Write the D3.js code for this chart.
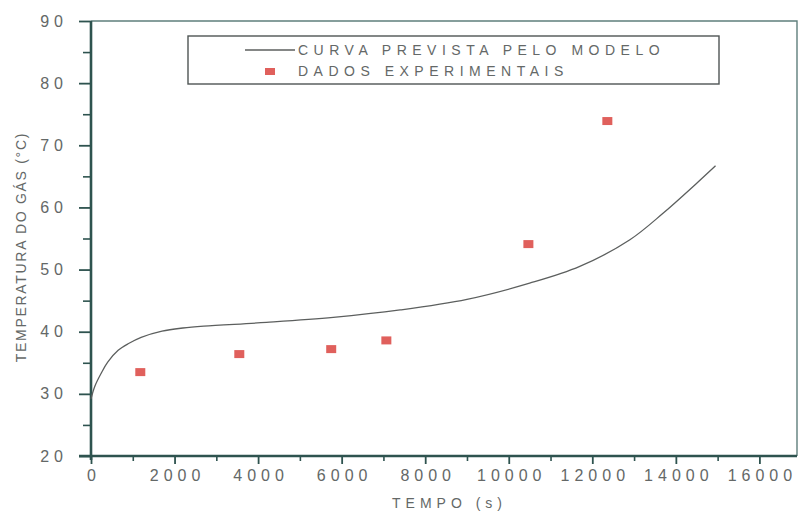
<!DOCTYPE html>
<html>
<head>
<meta charset="utf-8">
<script src="https://cdn.jsdelivr.net/npm/d3@7"></script>
<style>
  html, body { margin: 0; padding: 0; background: #ffffff; }
  svg { display: block; font-family: "Liberation Sans", Arial, sans-serif; }
</style>
</head>
<body>
<svg id="chart" width="798" height="515"></svg>
<script>
// Model curve: predicted gas temperature over time
const modelTime = [0, 90, 250, 400, 650, 900, 1200, 1700, 2200, 2700, 4200, 5800, 7400, 9000, 10500, 11700, 12900, 13700, 14500, 14950];
const modelTemp = [29.2, 31.2, 33.4, 35.1, 37.0, 38.1, 39.1, 40.1, 40.6, 40.9, 41.5, 42.3, 43.5, 45.2, 47.8, 50.5, 54.8, 59.1, 63.9, 66.7];

// Experimental measurements
const expTime = [1180, 3550, 5750, 7070, 10470, 12360];
const expTemp = [33.5, 36.4, 37.2, 38.6, 54.1, 73.9];

// Axis ticks
const xTicks = [0, 2000, 4000, 6000, 8000, 10000, 12000, 14000, 16000];
const xMinor = [1000, 3000, 5000, 7000, 9000, 11000, 13000, 15000];
const yTicks = [20, 30, 40, 50, 60, 70, 80, 90];
const yMinor = [25, 35, 45, 55, 65, 75, 85];

const legendLabels = ["CURVA PREVISTA PELO MODELO", "DADOS EXPERIMENTAIS"];
const xTitle = "TEMPO (s)";
const yTitle = "TEMPERATURA DO GÁS (°C)";

const axisColor = "#2e534f";
const textColor = "#646867";
const markColor = "#e0605c";

const svg = d3.select("#chart");

const plotLeft = 91, plotRight = 797, plotTop = 21, plotBottom = 456;
const x = d3.scaleLinear().domain([0, 16900]).range([plotLeft, plotRight]);
const y = d3.scaleLinear().domain([20, 90]).range([plotBottom, plotTop]);

// frame (top and right edges)
svg.append("path")
  .attr("d", `M${plotLeft},${plotTop}H${plotRight}V${plotBottom}`)
  .attr("fill", "none")
  .attr("stroke", "#5f7f7c")
  .attr("stroke-width", 1.4);

function styleAxis(g, spacing) {
  g.select(".domain").remove();
  g.selectAll(".tick line").attr("stroke", axisColor).attr("stroke-width", 1.8);
  g.selectAll(".tick text")
    .attr("fill", textColor)
    .style("font-size", "16px")
    .style("letter-spacing", spacing + "px");
}

// x axis
const gx = svg.append("g").attr("transform", `translate(0,${plotBottom})`);
gx.call(d3.axisBottom(x).tickValues(xTicks).tickSize(8).tickPadding(6).tickFormat(d3.format("d")));
styleAxis(gx, 5);
gx.selectAll(".tick text").attr("dx", 2.5);
svg.append("g").attr("transform", `translate(0,${plotBottom})`)
  .call(d3.axisBottom(x).tickValues(xMinor).tickSize(5).tickFormat(""))
  .call(g => { g.select(".domain").remove(); g.selectAll(".tick line").attr("stroke", axisColor).attr("stroke-width", 1.6); });

// y axis
const gy = svg.append("g").attr("transform", `translate(${plotLeft},0)`);
gy.call(d3.axisLeft(y).tickValues(yTicks).tickSize(12).tickPadding(16).tickFormat(d3.format("d")));
styleAxis(gy, 5);
gy.selectAll(".tick text").attr("dx", 5);
svg.append("g").attr("transform", `translate(${plotLeft},0)`)
  .call(d3.axisLeft(y).tickValues(yMinor).tickSize(8).tickFormat(""))
  .call(g => { g.select(".domain").remove(); g.selectAll(".tick line").attr("stroke", axisColor).attr("stroke-width", 1.6); });

// axis lines
svg.append("line").attr("x1", plotLeft - 12).attr("x2", plotRight).attr("y1", plotBottom).attr("y2", plotBottom)
  .attr("stroke", axisColor).attr("stroke-width", 2.6);
svg.append("line").attr("x1", plotLeft).attr("x2", plotLeft).attr("y1", plotTop).attr("y2", plotBottom + 4)
  .attr("stroke", axisColor).attr("stroke-width", 2.6);

// axis titles
svg.append("text")
  .attr("x", 447).attr("y", 508)
  .attr("text-anchor", "middle").attr("dx", 2.5)
  .attr("fill", textColor)
  .style("font-size", "14px").style("letter-spacing", "5px")
  .text(xTitle);

svg.append("text")
  .attr("transform", `translate(26,248) rotate(-90)`)
  .attr("text-anchor", "middle").attr("dx", 0.9)
  .attr("fill", textColor)
  .style("font-size", "14px").style("letter-spacing", "1.7px")
  .text(yTitle);

// model curve
const line = d3.line().x(d => x(d[0])).y(d => y(d[1])).curve(d3.curveCatmullRom.alpha(0.5));
svg.append("path")
  .datum(d3.zip(modelTime, modelTemp))
  .attr("d", line)
  .attr("fill", "none")
  .attr("stroke", "#5c5f5e")
  .attr("stroke-width", 1.3);

// experimental points
svg.append("g").selectAll("rect")
  .data(d3.zip(expTime, expTemp))
  .join("rect")
  .attr("x", d => x(d[0]) - 5)
  .attr("y", d => y(d[1]) - 4)
  .attr("width", 10).attr("height", 8)
  .attr("fill", markColor);

// legend
const lg = svg.append("g");
lg.append("rect")
  .attr("x", 188).attr("y", 36).attr("width", 531).attr("height", 48)
  .attr("fill", "#fff").attr("stroke", "#4f5554").attr("stroke-width", 1.4);
lg.append("line").attr("x1", 245).attr("x2", 295).attr("y1", 50).attr("y2", 50)
  .attr("stroke", "#5c5f5e").attr("stroke-width", 1.3);
lg.append("rect").attr("x", 265).attr("y", 68).attr("width", 10).attr("height", 7).attr("fill", markColor);
lg.selectAll("text.lab")
  .data(legendLabels)
  .join("text")
  .attr("class", "lab")
  .attr("x", 298)
  .attr("y", (d, i) => 55 + i * 21)
  .attr("fill", textColor)
  .style("font-size", "14px").style("letter-spacing", "5.5px")
  .text(d => d);
</script>
</body>
</html>
